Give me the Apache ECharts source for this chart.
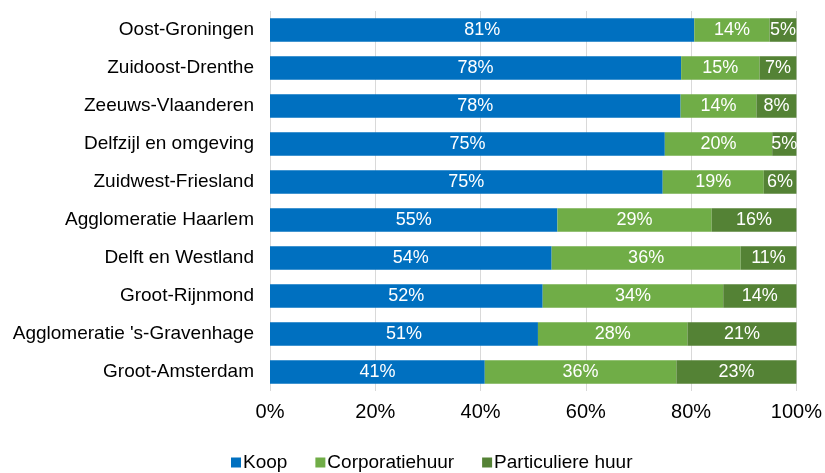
<!DOCTYPE html>
<html>
<head>
<meta charset="utf-8">
<script src="https://cdn.jsdelivr.net/npm/echarts@6/dist/echarts.min.js"></script>
<style>
  html, body { margin: 0; padding: 0; background: #fff; }
  #chart { width: 825px; height: 473px; }
</style>
</head>
<body>
<div id="chart"></div>
<script>
// regio's, van onder naar boven (category axis draait om)
const regions = [
  'Groot-Amsterdam',
  "Agglomeratie 's-Gravenhage",
  'Groot-Rijnmond',
  'Delft en Westland',
  'Agglomeratie Haarlem',
  'Zuidwest-Friesland',
  'Delfzijl en omgeving',
  'Zeeuws-Vlaanderen',
  'Zuidoost-Drenthe',
  'Oost-Groningen'
]

const koop = [40.8, 50.9, 51.8, 53.5, 54.6, 74.6, 75.0, 78.0, 78.1, 80.6]
const corporatie = [36.4, 28.4, 34.3, 35.9, 29.3, 19.2, 20.4, 14.4, 14.9, 14.3]
const particulier = [22.8, 20.7, 13.9, 10.6, 16.1, 6.2, 4.6, 7.6, 7.0, 5.1]

const fontFamily = '"Liberation Sans", Arial, sans-serif'

const chart = echarts.init(document.getElementById('chart'))

const labelStyle = {
  show: true,
  color: '#fff',
  fontSize: 18,
  fontFamily: fontFamily,
  formatter: p => Math.round(p.value) + '%'
}

chart.setOption({
  animation: false,
  grid: {
    left: 270,
    right: 28,
    top: 11,
    bottom: 82
  },
  legend: {
    bottom: -4,
    left: 226,
    itemWidth: 10,
    itemHeight: 10,
    itemGap: 28,
    icon: 'rect',
    textStyle: { fontSize: 19, fontFamily: fontFamily, color: '#000', padding: [0, 0, 0, -3] },
    data: ['Koop', 'Corporatiehuur', 'Particuliere huur']
  },
  xAxis: {
    type: 'value',
    min: 0,
    max: 100,
    interval: 20,
    axisLine: { show: false },
    axisTick: { show: false },
    splitLine: { lineStyle: { color: '#d9d9d9', width: 1 } },
    axisLabel: {
      formatter: v => v + '%',
      fontSize: 20,
      fontFamily: fontFamily,
      color: '#000',
      margin: 11
    }
  },
  yAxis: {
    type: 'category',
    data: regions,
    axisLine: { show: false },
    axisTick: { show: false },
    axisLabel: {
      fontSize: 19,
      fontFamily: fontFamily,
      color: '#000',
      margin: 16
    }
  },
  series: [
    {
      name: 'Koop',
      type: 'bar',
      stack: 'totaal',
      barCategoryGap: '38%',
      data: koop,
      itemStyle: { color: '#0070c0' },
      label: labelStyle
    },
    {
      name: 'Corporatiehuur',
      type: 'bar',
      stack: 'totaal',
      data: corporatie,
      itemStyle: { color: '#70ad47' },
      label: labelStyle
    },
    {
      name: 'Particuliere huur',
      type: 'bar',
      stack: 'totaal',
      data: particulier,
      itemStyle: { color: '#548235' },
      label: labelStyle
    }
  ]
})
</script>
</body>
</html>
